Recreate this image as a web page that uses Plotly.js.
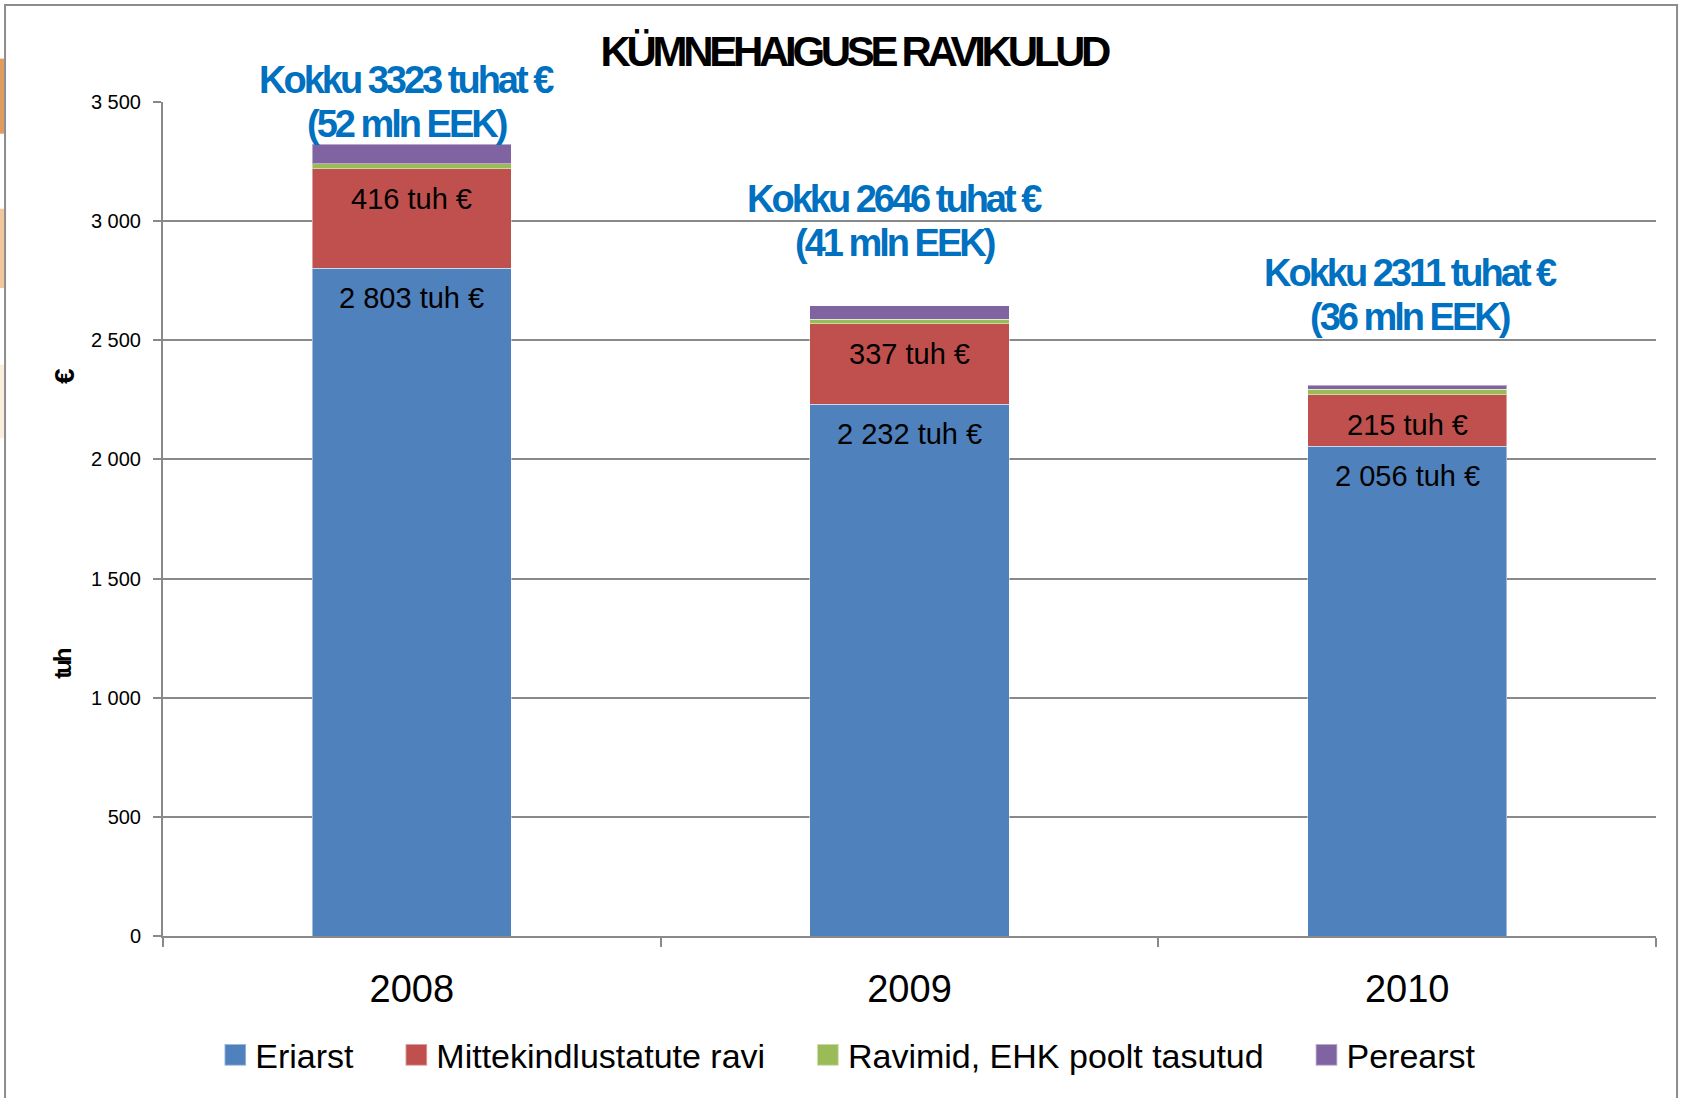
<!DOCTYPE html>
<html><head><meta charset="utf-8">
<script src="https://cdn.plot.ly/plotly-3.0.1.min.js"></script>
<style>
html,body{margin:0;padding:0;background:#fff;}
#chart{width:1684px;height:1098px;}
.legend .legendpoints{transform-box:view-box;transform-origin:20px 0px;transform:scale(1.8);}
</style></head><body><div id="chart"></div>
<script>
// ---- data ----
const years = ['2008', '2009', '2010'];
const seriesNames = ['Eriarst', 'Mittekindlustatute ravi', 'Ravimid, EHK poolt tasutud', 'Perearst'];
const eriarst = [2803, 2232, 2056];
const mittekindlustatute = [416, 337, 215];
const ravimid = [22, 19, 24];
const perearst = [82, 58, 16];
const totals = [3323, 2646, 2311];
const eekMln = [52, 41, 36];
const chartTitle = 'KÜMNEHAIGUSE RAVIKULUD';

// ---- styles ----
const colors = ['#4F81BD', '#C0504D', '#9BBB59', '#8064A2'];
const FONT = 'Liberation Sans, Arial, sans-serif';
const grey = '#898989';
const legendPad = '\u00a0\u00a0\u00a0\u00a0';

const seriesValues = [eriarst, mittekindlustatute, ravimid, perearst];
const traces = seriesValues.map((vals, k) => ({
  type: 'bar', x: years, y: vals,
  name: seriesNames[k] + (k < seriesValues.length - 1 ? legendPad : ''),
  marker: {color: colors[k], line: {width: 1, color: 'rgba(255,255,255,0.45)'}},
  hoverinfo: 'x+y'
}));

function fmt(v) {
  return v >= 1000 ? Math.floor(v / 1000) + ' ' + String(v % 1000).padStart(3, '0') : String(v);
}

const annotations = [];
// in-bar labels (top of segment); x given as category index
years.forEach((yr, i) => {
  annotations.push({x: i, y: eriarst[i], xref: 'x', yref: 'y', yshift: -30, yanchor: 'middle',
    showarrow: false, text: fmt(eriarst[i]) + ' tuh €', font: {family: FONT, size: 29, color: '#000'}});
  annotations.push({x: i, y: eriarst[i] + mittekindlustatute[i], xref: 'x', yref: 'y', yshift: -30, yanchor: 'middle',
    showarrow: false, text: fmt(mittekindlustatute[i]) + ' tuh €', font: {family: FONT, size: 29, color: '#000'}});
});
// total labels (two lines each)
const kokkuY = [3500, 3000, 2688];
const kokkuShift = [-5, -15, 3];
const blueFont = {family: FONT, size: 38, color: '#0070C0', weight: 'bold'};
years.forEach((yr, i) => {
  annotations.push({x: i, y: kokkuY[i], xref: 'x', yref: 'y', xshift: kokkuShift[i], yshift: 22, yanchor: 'middle',
    showarrow: false, font: blueFont,
    text: '<span style="letter-spacing:-3px">Kokku ' + totals[i] + ' tuhat €</span>'});
  annotations.push({x: i, y: kokkuY[i], xref: 'x', yref: 'y', xshift: kokkuShift[i], yshift: -22, yanchor: 'middle',
    showarrow: false, font: blueFont,
    text: '<span style="letter-spacing:-3px">(' + eekMln[i] + ' mln EEK)</span>'});
});
// y axis title glyphs
annotations.push({xref: 'paper', yref: 'paper', x: -0.0777, y: 0.684, showarrow: false, textangle: -90,
  text: '€', font: {family: FONT, size: 28, color: '#000', weight: 'bold'}});
annotations.push({xref: 'paper', yref: 'paper', x: -0.0777, y: 0.306, showarrow: false, textangle: -90,
  text: '<span style="letter-spacing:-3px">tuh</span>', font: {family: FONT, size: 24, color: '#000', weight: 'bold'}});

const shapes = [
  // outer frame
  {type: 'rect', xref: 'paper', yref: 'paper', x0: -0.1058, x1: 1.0141, y0: -0.25, y1: 1.1162,
   line: {color: '#8c8c8c', width: 2}, layer: 'below'},
  // slide decoration at left edge
  {type: 'rect', xref: 'paper', yref: 'paper', x0: -0.1092, x1: -0.1065, y0: 0.962, y1: 1.052, fillcolor: '#E09B60', line: {width: 0}},
  {type: 'rect', xref: 'paper', yref: 'paper', x0: -0.1092, x1: -0.1065, y0: 0.777, y1: 0.872, fillcolor: '#F2C79B', line: {width: 0}},
  {type: 'rect', xref: 'paper', yref: 'paper', x0: -0.1092, x1: -0.1065, y0: 0.597, y1: 0.685, fillcolor: '#FCEEDD', line: {width: 0}}
];

const layout = {
  width: 1684, height: 1098,
  margin: {l: 163, r: 28, t: 102, b: 162, pad: 0},
  paper_bgcolor: '#fff', plot_bgcolor: '#fff',
  separators: ', ',
  barmode: 'stack', bargap: 0.6,
  font: {family: FONT, color: '#000'},
  title: {text: '<span style="letter-spacing:-4.3px">' + chartTitle + '</span>', x: 0.507, xanchor: 'center', xref: 'container',
    y: 0.953, yanchor: 'middle', yref: 'container', font: {family: FONT, size: 42, color: '#000', weight: 'bold'}},
  xaxis: {type: 'category', range: [-0.5, 2.5], autorange: false, showline: true, linecolor: grey, linewidth: 2,
    ticks: 'outside', tickson: 'boundaries',
    ticklen: 9, tickwidth: 2, tickcolor: grey, showgrid: false, tickfont: {family: FONT, size: 38, color: '#000'},
    ticklabelstandoff: 18, zeroline: false, fixedrange: true},
  yaxis: {range: [0, 3500], autorange: false, dtick: 500, tickformat: ',d', showline: true, linecolor: grey, linewidth: 2,
    ticks: 'outside', ticklen: 8, tickwidth: 2, tickcolor: grey, gridcolor: grey, gridwidth: 2,
    tickfont: {family: FONT, size: 20, color: '#000'}, ticklabelstandoff: 8, zeroline: false, fixedrange: true},
  legend: {orientation: 'h', x: 0.459, xanchor: 'center', y: -0.143, yanchor: 'middle',
    font: {family: FONT, size: 34, color: '#000'}, traceorder: 'normal', itemclick: false},
  annotations: annotations,
  shapes: shapes,
  showlegend: true
};

Plotly.newPlot('chart', traces, layout, {displayModeBar: false, staticPlot: true});
</script></body></html>
